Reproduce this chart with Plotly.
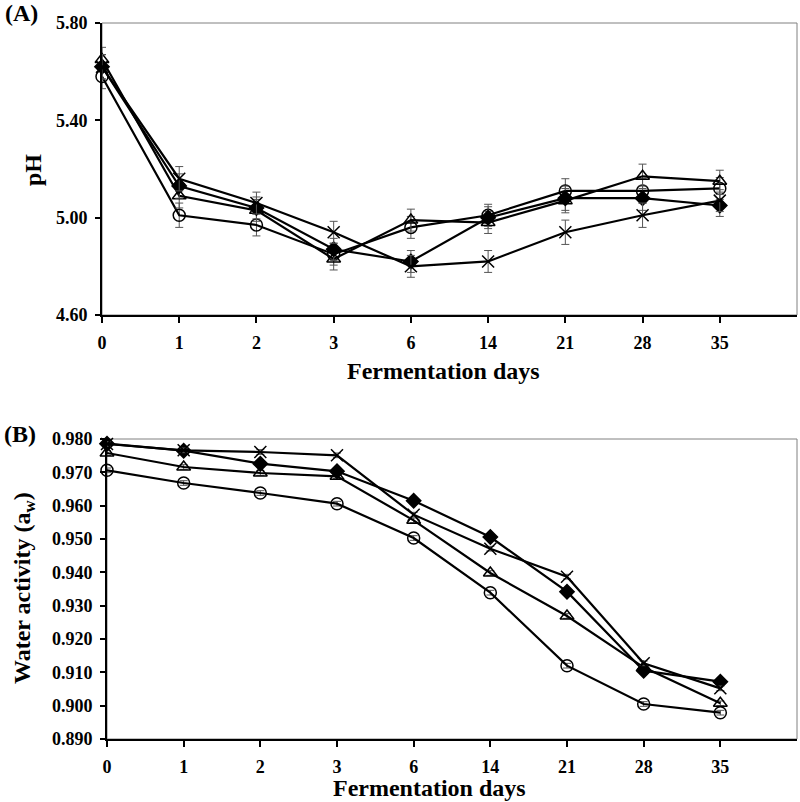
"""pH and water activity during fermentation, two stacked panels."""

import plotly.graph_objects as go

W, H = 800, 802
FONT = "Liberation Serif"
BLACK = "#000000"
GRAY = "#555555"

DAYS = ["0", "1", "2", "3", "6", "14", "21", "28", "35"]

# ── (A) pH ──────────────────────────────────────────────────────────────────
PH_CIRCLE = [5.58, 5.01, 4.97, 4.85, 4.96, 5.01, 5.11, 5.11, 5.12]
PH_TRIANGLE = [5.65, 5.09, 5.03, 4.83, 4.99, 4.98, 5.07, 5.17, 5.15]
PH_DIAMOND = [5.62, 5.13, 5.04, 4.87, 4.82, 5.00, 5.08, 5.08, 5.05]
PH_CROSS = [5.62, 5.16, 5.06, 4.94, 4.80, 4.82, 4.94, 5.01, 5.07]
PH_ERR = [0.05, 0.05, 0.045, 0.045, 0.045, 0.045, 0.05, 0.05, 0.045]

# ── (B) water activity ──────────────────────────────────────────────────────
AW_CIRCLE = [0.9706, 0.9668, 0.9638, 0.9606, 0.9503, 0.9339, 0.9120, 0.9005, 0.8979]
AW_TRIANGLE = [0.9758, 0.9716, 0.9698, 0.9688, 0.9556, 0.9398, 0.9269, 0.9115, 0.9007]
AW_DIAMOND = [0.9786, 0.9765, 0.9726, 0.9703, 0.9615, 0.9506, 0.9342, 0.9105, 0.9072]
AW_CROSS = [0.9785, 0.9766, 0.9761, 0.9751, 0.9573, 0.9471, 0.9387, 0.9127, 0.9052]
AW_ERR = [0.0007] * 9

MARKERS = [
    ("circle-open", 12, None),
    ("triangle-up-open", 12, None),
    ("diamond", 11, BLACK),
    ("x-thin-open", 12, None),
]
NAMES = ["Sample 1", "Sample 2", "Sample 3", "Sample 4"]


def px(x):
    return x / W


def py(y):
    return 1 - y / H


fig = go.Figure()


def add_series(values, err, xa, ya):
    for name, y, (sym, size, fill) in zip(NAMES, values, MARKERS):
        fig.add_trace(go.Scatter(
            x=DAYS, y=y, mode="lines+markers", name=name, xaxis=xa, yaxis=ya,
            line=dict(color=BLACK, width=2.2),
            marker=dict(symbol=sym, size=size, color=fill or BLACK,
                        line=dict(color=BLACK, width=1.5)),
            error_y=dict(type="data", array=err, color=GRAY, thickness=1, width=4),
            cliponaxis=False, showlegend=False,
        ))


add_series([PH_CIRCLE, PH_TRIANGLE, PH_DIAMOND, PH_CROSS], PH_ERR, "x", "y")
add_series([AW_CIRCLE, AW_TRIANGLE, AW_DIAMOND, AW_CROSS], AW_ERR, "x2", "y2")

tick_font = dict(family=FONT, size=18, color=BLACK, weight="bold")
xcommon = dict(type="category", categoryarray=DAYS, range=[0, 9], showline=True,
               linecolor=BLACK, linewidth=2, ticks="outside", ticklen=6, tickwidth=1.5,
               tickcolor=BLACK, showgrid=False, zeroline=False, tickfont=tick_font,
               ticklabelstandoff=4, automargin=False)
ycommon = dict(showline=True, linecolor=BLACK, linewidth=2, ticks="outside", ticklen=5,
               tickwidth=1.5, tickcolor=BLACK, showgrid=False, zeroline=False,
               tickfont=tick_font, ticklabelstandoff=4, automargin=False)

fig.update_layout(
    width=W, height=H, plot_bgcolor="white", paper_bgcolor="white",
    margin=dict(l=0, r=0, t=0, b=0, autoexpand=False), showlegend=False,
    xaxis=dict(domain=[px(102), px(797)], anchor="y", **xcommon),
    yaxis=dict(domain=[py(315), py(23)], anchor="x", range=[4.6, 5.8], dtick=0.4,
               tick0=4.6, tickformat=".2f", **ycommon),
    xaxis2=dict(domain=[px(107), px(797)], anchor="y2", **xcommon),
    yaxis2=dict(domain=[py(739), py(439)], anchor="x2", range=[0.89, 0.98], dtick=0.01,
                tick0=0.89, tickformat=".3f", **ycommon),
)

# thin gray frame on top/right, black axis lines drawn over it
for xr, yr in (("x domain", "y domain"), ("x2 domain", "y2 domain")):
    fig.add_shape(type="rect", xref=xr, yref=yr, x0=0, x1=1, y0=0, y1=1,
                  line=dict(color="#808080", width=1), layer="below")

title_font = dict(family=FONT, size=24, color=BLACK)
for text, x, y, angle in (
    ("<b>Fermentation days</b>", 443, 371, 0),
    ("<b>Fermentation days</b>", 429, 788, 0),
    ("<b>pH</b>", 33, 170, -90),
    ("<b>Water activity (a<sub>w</sub>)</b>", 24, 588, -90),
):
    fig.add_annotation(text=text, x=px(x), y=py(y), xref="paper", yref="paper",
                       showarrow=False, textangle=angle, font=title_font,
                       xanchor="center", yanchor="middle")

for text, x, y in (("<b>(A)</b>", 3, 13), ("<b>(B)</b>", 2, 434)):
    fig.add_annotation(text=text, x=px(x), y=py(y), xref="paper", yref="paper",
                       showarrow=False, font=dict(family=FONT, size=24, color=BLACK),
                       xanchor="left", yanchor="middle")

# the page body has an 8px default margin; drop it so the figure fills the window
fig.write_html("out.html", config={"displayModeBar": False},
               post_script="document.body.style.margin = '0';")
